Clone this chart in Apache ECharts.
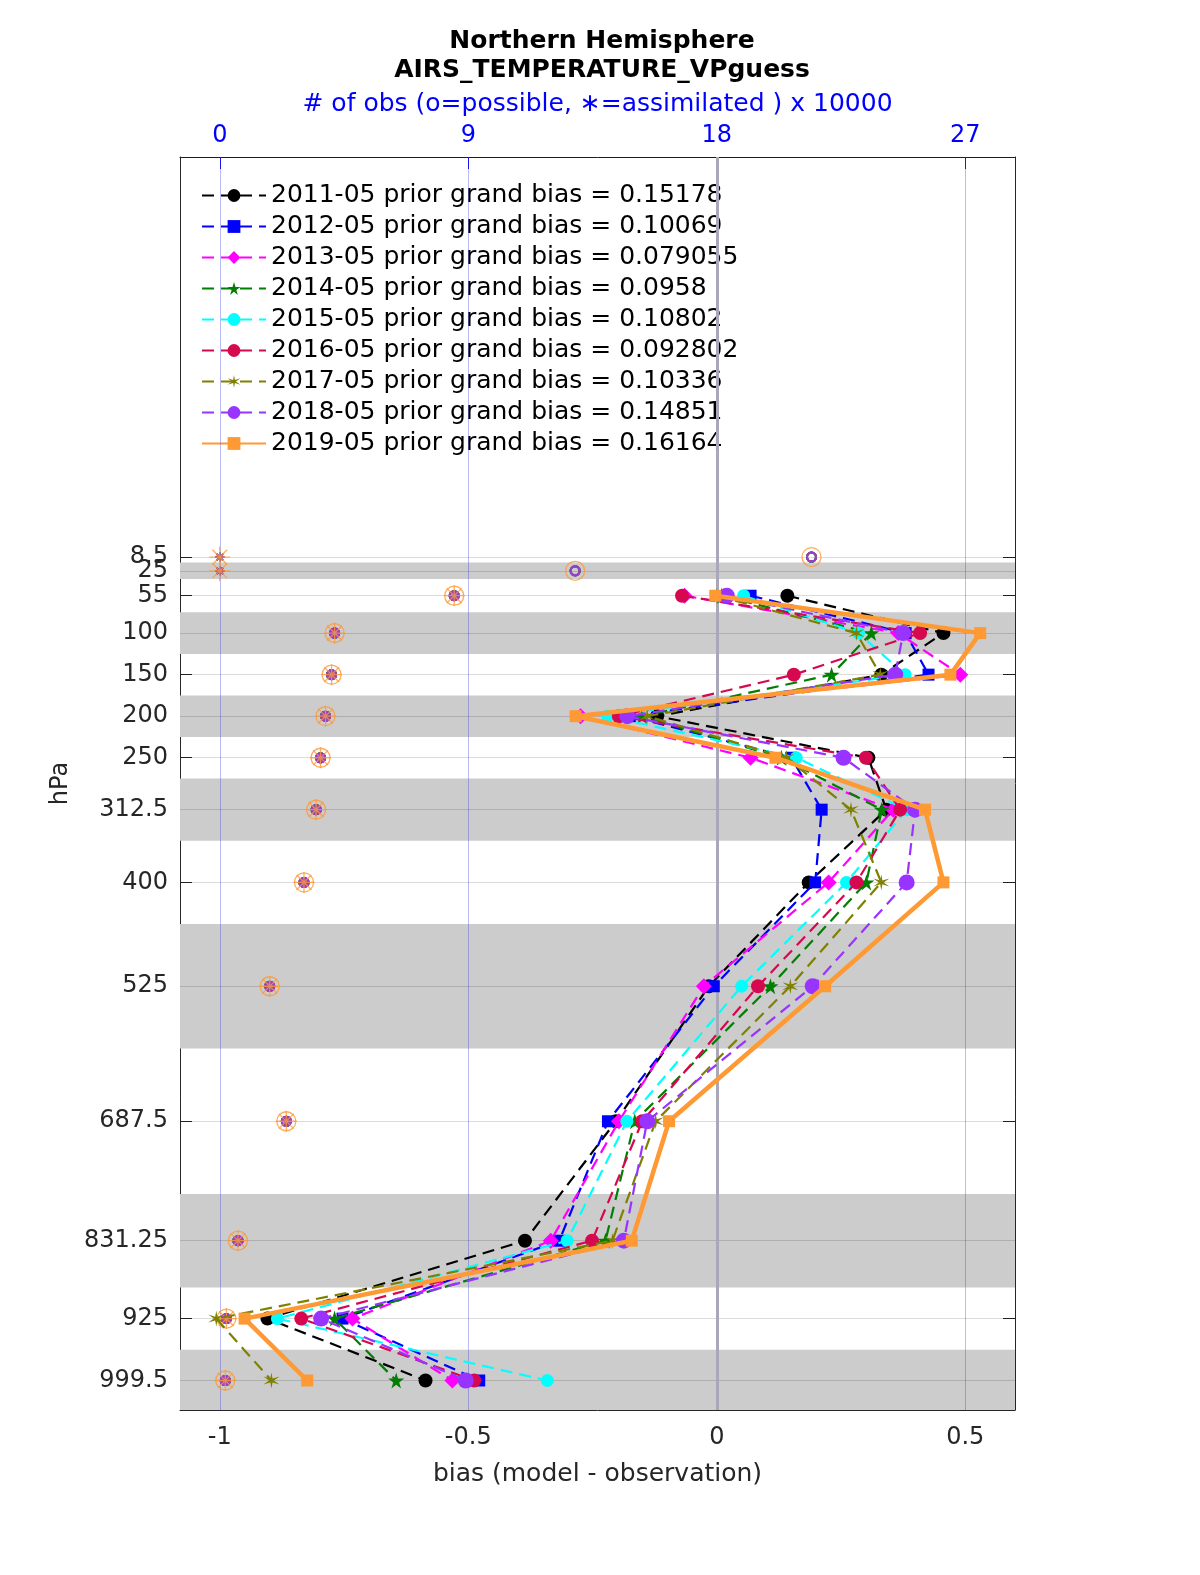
<!DOCTYPE html>
<html>
<head>
<meta charset="utf-8">
<script src="https://cdn.jsdelivr.net/npm/echarts@6/dist/echarts.min.js"></script>
<style>html,body{margin:0;padding:0;background:#fff;overflow:hidden;}#c{width:1200px;height:1575px;display:block;}</style>
</head>
<body>
<div id="c"></div>
<script>
// ---- data ----
const levels = [8.5, 25, 55, 100, 150, 200, 250, 312.5, 400, 525, 687.5, 831.25, 925, 999.5];
const levelLabels = ['8.5','25','55','100','150','200','250','312.5','400','525','687.5','831.25','925','999.5'];
const bandEdges = [[15, 35], [75, 125], [175, 225], [275, 350], [450, 600], [775, 887.5], [962.5, 1035]];
const bottomTicks = [-1, -0.5, 0, 0.5];
const topTicks = [0, 9, 18, 27];

const years = ['2011-05','2012-05','2013-05','2014-05','2015-05','2016-05','2017-05','2018-05','2019-05'];
const grandBias = ['0.15178','0.10069','0.079055','0.0958','0.10802','0.092802','0.10336','0.14851','0.16164'];

const bias2011 = [null, null, 0.142, 0.456, 0.331, -0.120, 0.305, 0.341, 0.185, -0.016, -0.203, -0.386, -0.904, -0.586];
const bias2012 = [null, null, 0.068, 0.380, 0.426, -0.175, 0.150, 0.211, 0.198, -0.006, -0.219, -0.317, -0.753, -0.478];
const bias2013 = [null, null, -0.065, 0.365, 0.490, -0.274, 0.068, 0.355, 0.225, -0.026, -0.197, -0.334, -0.733, -0.532];
const bias2014 = [null, null, 0.010, 0.311, 0.231, -0.150, 0.130, 0.332, 0.301, 0.108, -0.165, -0.224, -0.769, -0.645];
const bias2015 = [null, null, 0.054, 0.285, 0.379, -0.220, 0.160, 0.382, 0.261, 0.050, -0.181, -0.301, -0.884, -0.341];
const bias2016 = [null, null, -0.070, 0.409, 0.155, -0.197, 0.300, 0.369, 0.281, 0.083, -0.150, -0.251, -0.836, -0.488];
const bias2017 = [null, null, 0.000, 0.281, 0.329, -0.140, 0.140, 0.270, 0.331, 0.148, -0.123, -0.210, -1.007, -0.896];
const bias2018 = [null, null, 0.020, 0.375, 0.359, -0.180, 0.255, 0.399, 0.382, 0.193, -0.140, -0.187, -0.796, -0.505];
const bias2019 = [null, null, -0.003, 0.530, 0.470, -0.284, 0.118, 0.419, 0.456, 0.218, -0.096, -0.171, -0.950, -0.824];

const obsPossible    = [21.43, 12.87, 8.49, 4.16, 4.05, 3.83, 3.65, 3.49, 3.05, 1.81, 2.41, 0.66, 0.24, 0.20];
const obsAssimilated = [0.00,  0.00,  8.49, 4.16, 4.05, 3.83, 3.65, 3.49, 3.05, 1.81, 2.41, 0.66, 0.24, 0.20];

// ---- styles ----
const biasArrays = [bias2011, bias2012, bias2013, bias2014, bias2015, bias2016, bias2017, bias2018, bias2019];
const colors = ['#000000','#0000ff','#ff00ff','#007f00','#00ffff','#d6084f','#808000','#9933ff','#ff9933'];
const STAR5 = 'path://M50,0L61,35L98,35L68,57L79,92L50,70L21,92L32,57L2,35L39,35Z';
const STAR6 = 'path://M50,0L56,38L93,25L63,50L93,75L56,62L50,100L44,62L7,75L37,50L7,25L44,38Z';
const ASTER = 'path://M10,0L10,20M0,10L20,10M3,3L17,17M3,17L17,3';
const symbols = ['circle','rect','diamond',STAR5,'circle','circle',STAR6,'circle','rect'];
const symSizes = [14, 12, 16, 16, 13, 14, 16, 16, 12];
const FONT = 'DejaVu Sans';
const FS = 24;

const series = [];
// background: bands + gridlines
series.push({
  type: 'line', xAxisIndex: 0, yAxisIndex: 0, data: [], silent: true, z: 1,
  markArea: { silent: true, itemStyle: { color: '#cccccc' },
    data: bandEdges.map(e => [{ yAxis: e[0] }, { yAxis: e[1] }]) },
  markLine: { silent: true, symbol: 'none', label: { show: false },
    lineStyle: { color: 'rgba(0,0,0,0.14)', width: 1, type: 'solid' },
    data: levels.map(l => ({ yAxis: l })) }
});
series.push({
  type: 'line', xAxisIndex: 1, yAxisIndex: 0, data: [], silent: true, z: 2,
  markLine: { silent: true, symbol: 'none', label: { show: false },
    lineStyle: { color: 'rgba(60,60,220,0.35)', width: 1, type: 'solid' },
    data: topTicks.map(t => ({ xAxis: t })) }
});
series.push({
  type: 'line', xAxisIndex: 0, yAxisIndex: 0, data: [], silent: true, z: 2,
  markLine: { silent: true, symbol: 'none', label: { show: false },
    lineStyle: { color: '#a8a8b8', width: 3, type: 'solid' },
    data: [{ xAxis: 0 }] }
});

// obs counts (top axis)
years.forEach((y, i) => {
  const big = i === 8;
  series.push({
    type: 'scatter', xAxisIndex: 1, yAxisIndex: 0, z: 3 + i, silent: true,
    symbol: 'circle', symbolSize: big ? 19 : 9,
    itemStyle: { color: 'transparent', borderColor: colors[i], borderWidth: big ? 1.3 : 2 },
    data: levels.map((l, j) => [obsPossible[j], l])
  });
  series.push({
    type: 'scatter', xAxisIndex: 1, yAxisIndex: 0, z: 3 + i, silent: true,
    symbol: ASTER, symbolSize: big ? 21 : 9,
    itemStyle: { color: 'transparent', borderColor: colors[i], borderWidth: big ? 1.3 : 1.5 },
    data: levels.map((l, j) => [obsAssimilated[j], l])
  });
});

// bias profiles
years.forEach((y, i) => {
  const arr = biasArrays[i];
  const data = [];
  levels.forEach((l, j) => { if (arr[j] !== null) data.push([arr[j], l]); });
  const solid = i === 8;
  series.push({
    name: y + ' prior grand bias = ' + grandBias[i],
    type: 'line', xAxisIndex: 0, yAxisIndex: 0, z: 20 + i,
    data: data,
    symbol: symbols[i], symbolSize: symSizes[i], showAllSymbol: true,
    lineStyle: { color: colors[i], width: solid ? 4.5 : 2.2, type: solid ? 'solid' : [12, 7] },
    itemStyle: { color: colors[i], borderWidth: 0 },
    emphasis: { disabled: true },
    animation: false
  });
});

const yCommon = { type: 'value', inverse: true, min: -473, max: 1035, splitLine: { show: false } };

const chart = echarts.init(document.getElementById('c'));
chart.setOption({
  animation: false,
  backgroundColor: '#ffffff',
  title: {
    text: 'Northern Hemisphere\nAIRS_TEMPERATURE_VPguess',
    left: 597, top: 22, textAlign: 'center',
    textStyle: { fontFamily: FONT, fontWeight: 'bold', fontSize: 25, lineHeight: 29, color: '#000' }
  },
  legend: {
    data: years.map((y, i) => y + ' prior grand bias = ' + grandBias[i]),
    orient: 'vertical', left: 196, top: 178,
    itemWidth: 64, itemHeight: 16, itemGap: 6, itemTextGap: 2,
    textStyle: { fontFamily: FONT, fontSize: 25, color: '#000', lineHeight: 25 },
    selectedMode: false
  },
  grid: { left: 180, right: 185, top: 157, bottom: 165, containLabel: false },
  xAxis: [
    {
      type: 'value', position: 'bottom', min: -1.08, max: 0.6,
      name: 'bias (model - observation)', nameLocation: 'middle', nameGap: 52,
      nameTextStyle: { fontFamily: FONT, fontSize: 25, color: '#262626' },
      axisLine: { show: true, onZero: false, lineStyle: { color: '#262626', width: 1 } },
      axisTick: { show: true, inside: true, length: 12, customValues: bottomTicks, lineStyle: { color: '#262626' } },
      axisLabel: { customValues: bottomTicks, fontFamily: FONT, fontSize: FS, color: '#262626', margin: 16,
        formatter: v => String(v) },
      splitLine: { show: false }
    },
    {
      type: 'value', position: 'top', min: -1.44, max: 28.8,
      name: '# of obs (o=possible, \u2217=assimilated ) x 10000', nameLocation: 'middle', nameGap: 40,
      nameTextStyle: { fontFamily: FONT, fontSize: 25, color: '#0000ff' },
      axisLine: { show: true, onZero: false, lineStyle: { color: '#0000ff', width: 1 } },
      axisTick: { show: true, inside: true, length: 12, customValues: topTicks, lineStyle: { color: '#0000ff' } },
      axisLabel: { customValues: topTicks, fontFamily: FONT, fontSize: FS, color: '#0000ff', margin: 9,
        formatter: v => String(v) },
      splitLine: { show: false }
    }
  ],
  yAxis: [
    Object.assign({}, yCommon, {
      position: 'left',
      name: 'hPa', nameLocation: 'middle', nameGap: 101, nameRotate: 90,
      nameTextStyle: { fontFamily: FONT, fontSize: 24, color: '#262626' },
      axisLine: { show: true, onZero: false, lineStyle: { color: '#262626', width: 1 } },
      axisTick: { show: true, inside: true, length: 12, customValues: levels, lineStyle: { color: '#262626' } },
      axisLabel: { customValues: levels.slice(1), hideOverlap: false, fontFamily: FONT, fontSize: FS, color: '#262626', margin: 12,
        formatter: v => { const k = levels.indexOf(v); return k >= 0 ? levelLabels[k] : ''; } }
    }),
    Object.assign({}, yCommon, {
      position: 'right',
      axisLine: { show: true, onZero: false, lineStyle: { color: '#262626', width: 1 } },
      axisTick: { show: true, inside: true, length: 12, customValues: levels, lineStyle: { color: '#262626' } },
      axisLabel: { show: false }
    }),
    Object.assign({}, yCommon, {
      position: 'left',
      axisLine: { show: false },
      axisTick: { show: false },
      axisLabel: { customValues: [levels[0]], hideOverlap: false, fontFamily: FONT, fontSize: FS, color: '#262626', margin: 12,
        formatter: v => { const k = levels.indexOf(v); return k >= 0 ? levelLabels[k] : ''; } }
    })
  ],
  series: series
});
</script>
</body>
</html>
